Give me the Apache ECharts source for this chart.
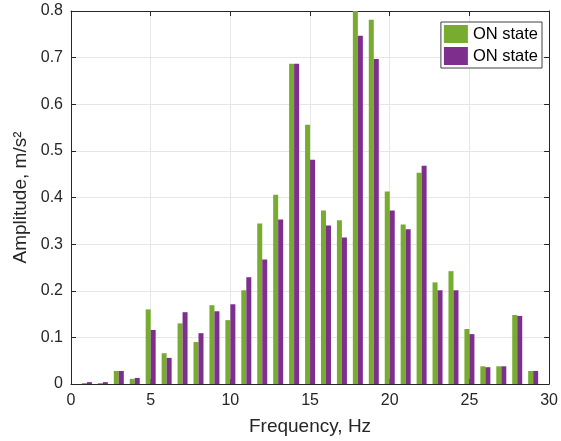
<!DOCTYPE html>
<html><head><meta charset="utf-8">
<script src="https://cdn.jsdelivr.net/npm/echarts@6/dist/echarts.min.js"></script>
<style>html,body{margin:0;padding:0;background:#fff}#c{width:561px;height:441px}</style>
</head><body><div id="c"></div>
<script>
const freqs = [1,2,3,4,5,6,7,8,9,10,11,12,13,14,15,16,17,18,19,20,21,22,23,24,25,26,27,28,29];
const greenVals = [0.002,0.002,0.028,0.011,0.160,0.066,0.130,0.090,0.169,0.137,0.201,0.344,0.406,0.687,0.556,0.372,0.351,0.800,0.781,0.413,0.342,0.453,0.218,0.242,0.118,0.038,0.038,0.148,0.028];
const purpleVals = [0.004,0.004,0.028,0.013,0.116,0.056,0.154,0.109,0.156,0.171,0.229,0.267,0.353,0.687,0.481,0.340,0.314,0.747,0.697,0.372,0.332,0.468,0.201,0.201,0.107,0.036,0.038,0.146,0.028];
const legendNames = ['ON state','ON state '];
const xTitle = 'Frequency, Hz';
const yTitle = 'Amplitude, m/s²';

const font = 'Liberation Sans, Arial, Helvetica, sans-serif';
const chart = echarts.init(document.getElementById('c'));
const axisLine = {show:true, onZero:false, lineStyle:{color:'#262626', width:1}};
const tick = {show:true, inside:true, length:5, lineStyle:{color:'#262626'}};
const gridLine = {show:true, lineStyle:{color:'#e6e6e6', width:1}};
chart.setOption({
  animation:false,
  grid:{left:71, right:10, top:11, bottom:56, containLabel:false},
  legend:{
    data:legendNames, orient:'vertical', right:19, top:22,
    icon:'rect', itemWidth:24, itemHeight:18, itemGap:4,
    borderColor:'#404040', borderWidth:1, padding:[3,4,3,3], backgroundColor:'#fff',
    textStyle:{fontFamily:font, fontSize:16.5, color:'#000'},
    formatter: n => n.trim()
  },
  xAxis:[{
    type:'value', min:0, max:30, interval:5,
    name:xTitle, nameLocation:'middle', nameGap:33,
    nameTextStyle:{fontFamily:font, fontSize:19, color:'#262626'},
    axisLine:axisLine, axisTick:tick,
    axisLabel:{fontFamily:font, fontSize:16, color:'#262626', margin:9},
    splitLine:gridLine
  },{
    type:'value', min:0, max:30, interval:5, position:'top',
    axisLine:axisLine, axisTick:tick,
    axisLabel:{show:false}, splitLine:{show:false}
  }],
  yAxis:[{
    type:'value', min:0, max:0.8, interval:0.1,
    name:yTitle, nameLocation:'middle', nameGap:34,
    nameTextStyle:{fontFamily:font, fontSize:19, color:'#262626'},
    axisLine:axisLine, axisTick:tick,
    axisLabel:{fontFamily:font, fontSize:16, color:'#262626', margin:8, formatter:v=>v===0?'0':v.toFixed(1)},
    splitLine:gridLine
  },{
    type:'value', min:0, max:0.8, interval:0.1, position:'right',
    axisLine:axisLine, axisTick:tick,
    axisLabel:{show:false}, splitLine:{show:false}
  }],
  series:[{
    name:legendNames[0], type:'bar', barWidth:5, barGap:'0%',
    itemStyle:{color:'#77AC30'},
    data:freqs.map((f,i)=>[f, greenVals[i]])
  },{
    name:legendNames[1], type:'bar', barWidth:5, barGap:'0%',
    itemStyle:{color:'#7E2F8E'},
    data:freqs.map((f,i)=>[f, purpleVals[i]])
  }]
});
</script></body></html>
